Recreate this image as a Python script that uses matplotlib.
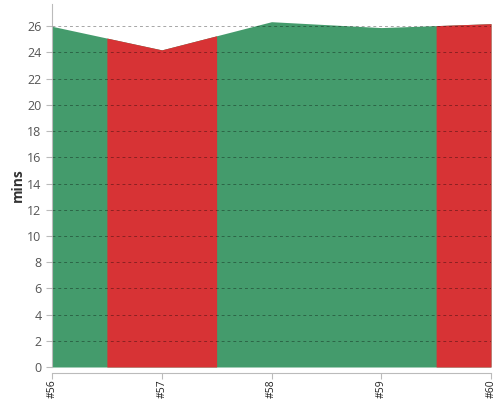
import numpy as np
import matplotlib
matplotlib.use("Agg")
import matplotlib.pyplot as plt

plt.rcParams['font.family'] = ['Open Sans', 'DejaVu Sans']

BUILDS = ["#56", "#57", "#58", "#59", "#60"]
DURATIONS = [26.0, 24.2, 26.35, 25.9, 26.2]
STATUS = ["ok", "fail", "ok", "ok", "fail"]
Y_TICKS = list(range(0, 27, 2))

COLORS = {"ok": "#449b6c", "fail": "#d73335"}


def draw_bands(ax, values, status):
    xs = np.arange(len(values))
    last = len(values) - 1
    # base area in the "ok" colour so band edges don't show white seams
    ax.fill_between(xs, 0, values, color=COLORS["ok"], linewidth=0, zorder=1)
    start = 0
    for i in range(1, len(status) + 1):
        if i == len(status) or status[i] != status[start]:
            if status[start] != "ok":
                lo = max(start - 0.5, 0)
                hi = min(i - 0.5, last)
                pts = [lo] + [float(k) for k in range(start, i) if lo < k < hi] + [hi]
                band_x = np.array(pts)
                band_y = np.interp(band_x, xs, values)
                ax.fill_between(band_x, 0, band_y, color=COLORS[status[start]],
                                linewidth=0, zorder=1.5)
            start = i


fig = plt.figure(figsize=(5, 4), dpi=100)
ax = fig.add_axes([0.104, 0.0825, 0.878, 0.9075])

draw_bands(ax, DURATIONS, STATUS)

ax.set_xlim(0, len(BUILDS) - 1)
ax.set_ylim(0, 27.7)
ax.set_xticks(range(len(BUILDS)))
ax.set_xticklabels(BUILDS)
ax.set_yticks(Y_TICKS)
ax.tick_params(axis='y', labelsize=9, labelcolor="#555555", color="#bbbbbb", length=4)
ax.tick_params(axis='x', labelsize=7.5, labelcolor="#222222", color="#bbbbbb",
               length=4, pad=1, labelrotation=90)

ax.yaxis.grid(True, linestyle=(0, (3, 3)), color="black", alpha=0.35, linewidth=0.7, zorder=2)
ax.set_axisbelow(False)

for side in ["top", "right"]:
    ax.spines[side].set_visible(False)
for side in ["left", "bottom"]:
    ax.spines[side].set_color("#bbbbbb")
ax.spines["bottom"].set_position(("outward", 4))

ax.set_ylabel("mins", fontsize=10, fontweight="bold", color="#333333", labelpad=2)

fig.savefig("out.png", dpi=100)
